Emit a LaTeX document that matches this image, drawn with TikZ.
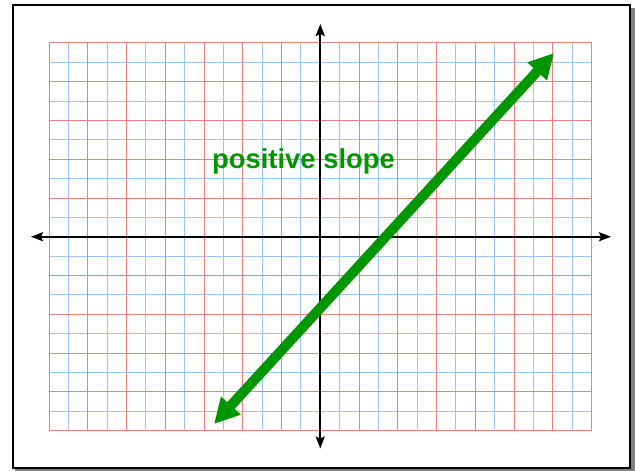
\documentclass[tikz,border=0pt]{standalone}
\usepackage{fontspec}
\setsansfont{Liberation Sans}
\usetikzlibrary{arrows.meta}
\definecolor{gridred}{RGB}{240,128,128}
\definecolor{gridblue}{RGB}{155,198,240}
\definecolor{slopegreen}{RGB}{0,150,0}
\definecolor{shadowgray}{RGB}{130,130,130}
\tikzset{
  minorline/.style={draw=gridblue, line width=0.5pt},
  majorline/.style={draw=gridred, line width=0.5pt},
  axisline/.style={draw=black, line width=1pt, {Stealth[length=6pt,width=4.5pt,inset=1pt]}-{Stealth[length=6pt,width=4.5pt,inset=1pt]}},
  slopeline/.style={draw=slopegreen, line width=5pt, {Triangle[length=12.5pt,width=12.5pt]}-{Triangle[length=12.5pt,width=12.5pt]}},
  slopelabel/.style={text=slopegreen, font=\sffamily\bfseries\fontsize{13.7}{16}\selectfont, inner sep=0pt}
}
\begin{document}
\begin{tikzpicture}[x=0.5pt,y=-0.5pt]
\useasboundingbox (0,0) rectangle (640,470);
% frame with shadow
\fill[shadowgray] (15,8) rectangle (634.5,470.5);
\draw[fill=white, line width=1pt] (12.5,5) rectangle (630,467.5);
% grid
\def\gx{49}\def\gy{43}\def\gs{19.375}
\foreach \k in {1,3,...,27} {
  \draw[minorline] ({\gx+\k*\gs},\gy) -- ({\gx+\k*\gs},{\gy+20*\gs});
}
\foreach \j in {1,3,...,19} {
  \draw[minorline] (\gx,{\gy+\j*\gs}) -- ({\gx+28*\gs},{\gy+\j*\gs});
}
\foreach \k in {0,2,...,28} {
  \draw[majorline] ({\gx+\k*\gs},\gy) -- ({\gx+\k*\gs},{\gy+20*\gs});
}
\foreach \j in {0,2,...,20} {
  \draw[majorline] (\gx,{\gy+\j*\gs}) -- ({\gx+28*\gs},{\gy+\j*\gs});
}
% axes
\coordinate (xl) at (31,236.75);
\coordinate (xr) at (611,236.75);
\coordinate (yt) at (320.25,24);
\coordinate (yb) at (320.25,448.5);
\draw[axisline] (xl) -- (xr);
\draw[axisline] (yt) -- (yb);
% slope line
\coordinate (sa) at (214,424);
\coordinate (sb) at (554,53);
\draw[slopeline] (sa) -- (sb);
\node[slopelabel, anchor=base] (lbl) at (303.5,168) {positive slope};
\end{tikzpicture}
\end{document}
